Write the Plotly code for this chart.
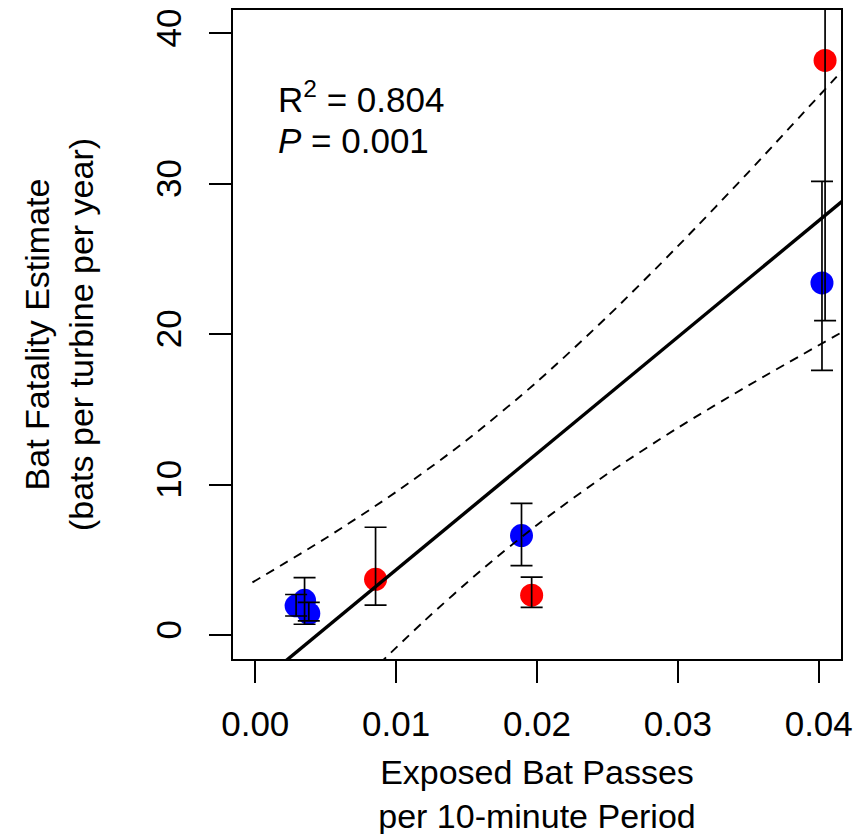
import plotly.graph_objects as go

# ---- data ----
bat_passes = [0.0029, 0.0035, 0.0038, 0.00854, 0.0189, 0.01962, 0.04023, 0.04045]
fatality = [1.94, 2.30, 1.43, 3.70, 6.61, 2.64, 23.4, 38.2]
err_upper = [2.69, 3.81, 2.16, 7.16, 8.75, 3.85, 30.15, 60.0]
err_lower = [1.26, 0.71, 0.93, 1.98, 4.61, 1.83, 17.59, 20.9]
point_group = ["blue", "blue", "blue", "red", "blue", "red", "blue", "red"]

fit_x = [0.0022, 0.0420]
fit_y = [-1.70, 29.09]

upper_band_x = [-0.0002, 0.005, 0.010, 0.015, 0.020, 0.025, 0.030, 0.035, 0.042]
upper_band_y = [3.49, 6.43, 9.51, 12.94, 16.83, 21.17, 25.85, 30.76, 37.86]
lower_band_x = [0.0088, 0.012, 0.016, 0.020, 0.025, 0.030, 0.035, 0.042]
lower_band_y = [-1.93, 0.93, 4.27, 7.31, 10.71, 13.77, 16.58, 20.32]

x_ticks = [0.00, 0.01, 0.02, 0.03, 0.04]
x_tick_labels = ["0.00", "0.01", "0.02", "0.03", "0.04"]
y_ticks = [0, 10, 20, 30, 40]
y_tick_labels = ["0", "10", "20", "30", "40"]

r2_text = "R<sup>2</sup> = 0.804"
p_text = "<i>P</i> = 0.001"

colour_map = {"red": "#FF0000", "blue": "#0000FF"}
FONT = "Liberation Sans, Arial, sans-serif"
FS = 35
FS_TITLE = 34

fig = go.Figure()

# points
fig.add_trace(go.Scatter(
    x=bat_passes, y=fatality, mode="markers",
    marker=dict(size=23, color=[colour_map[g] for g in point_group], line=dict(width=0)),
    showlegend=False, hoverinfo="skip"))

# error bars (drawn above points)
fig.add_trace(go.Scatter(
    x=bat_passes, y=fatality, mode="markers",
    marker=dict(size=1, color="rgba(0,0,0,0)"),
    error_y=dict(type="data", symmetric=False,
                 array=[u - v for u, v in zip(err_upper, fatality)],
                 arrayminus=[v - l for v, l in zip(fatality, err_lower)],
                 color="black", thickness=1.7, width=11),
    showlegend=False, hoverinfo="skip"))

# regression line
fig.add_trace(go.Scatter(x=fit_x, y=fit_y, mode="lines",
                         line=dict(color="black", width=3.4),
                         showlegend=False, hoverinfo="skip"))
# confidence bands
for bx, by in ((upper_band_x, upper_band_y), (lower_band_x, lower_band_y)):
    fig.add_trace(go.Scatter(x=bx, y=by, mode="lines",
                             line=dict(color="black", width=1.9, dash="9px,7px",
                                       shape="spline", smoothing=0.8),
                             showlegend=False, hoverinfo="skip"))

fig.add_annotation(x=0.00145, y=35.75, xref="x", yref="y", text=r2_text,
                   showarrow=False, xanchor="left", yanchor="middle",
                   font=dict(family=FONT, size=FS, color="black"))
fig.add_annotation(x=0.00145, y=32.85, xref="x", yref="y", text=p_text,
                   showarrow=False, xanchor="left", yanchor="middle",
                   font=dict(family=FONT, size=FS, color="black"))

fig.update_layout(
    width=861, height=834,
    margin=dict(l=225, r=28, t=0, b=183),
    paper_bgcolor="white", plot_bgcolor="white",
    font=dict(family=FONT, size=FS, color="black"),
    xaxis=dict(range=[-0.00158, 0.04158], tickmode="array", tickvals=x_ticks,
               ticktext=x_tick_labels, ticks="outside", ticklen=22, tickwidth=1.7,
               tickcolor="black", showgrid=False, zeroline=False,
               showline=True, linecolor="black", linewidth=2, mirror=True,
               ticklabelstandoff=11,
               title=dict(text="Exposed Bat Passes<br>per 10-minute Period",
                          standoff=18, font=dict(size=FS_TITLE))),
    yaxis=dict(range=[-1.6, 41.55], tickmode="array", tickvals=y_ticks,
               ticktext=y_tick_labels, ticks="outside", ticklen=22, tickwidth=1.7,
               tickcolor="black", showgrid=False, zeroline=False, tickangle=-90,
               showline=True, linecolor="black", linewidth=2, mirror=True,
               ticklabelstandoff=14,
               title=dict(text="Bat Fatality Estimate<br>(bats per turbine per year)",
                          standoff=45, font=dict(size=FS_TITLE))),
)

fig.write_html("out.html")
